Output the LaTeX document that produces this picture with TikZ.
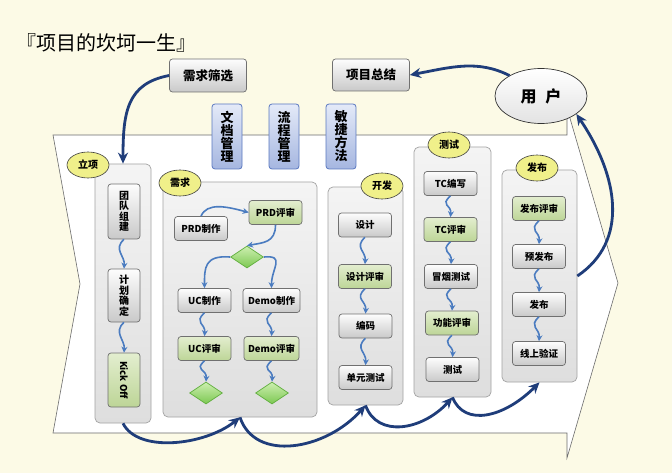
\documentclass[tikz,border=0pt]{standalone}
\usepackage{fontspec}
\setmainfont{Noto Sans CJK SC}
\usetikzlibrary{shapes.geometric,arrows.meta}

\definecolor{bgcream}{HTML}{FCFAE6}
\definecolor{edgegray}{HTML}{6B6B6B}
\definecolor{panelline}{HTML}{A3A3A3}
\definecolor{panelTop}{HTML}{F4F4F4}
\definecolor{panelBot}{HTML}{DEDEDE}
\definecolor{boxline}{HTML}{707070}
\definecolor{grayTop}{HTML}{FDFDFD}
\definecolor{grayBot}{HTML}{C9C9C9}
\definecolor{greenTop}{HTML}{E3EECF}
\definecolor{greenBot}{HTML}{BDD597}
\definecolor{choiceTop}{HTML}{CDEFB0}
\definecolor{choiceBot}{HTML}{7CC852}
\definecolor{choiceLine}{HTML}{5FAE3C}
\definecolor{tagFill}{HTML}{F0F08A}
\definecolor{blueTop}{HTML}{E4EAF8}
\definecolor{blueBot}{HTML}{A5B6E0}
\definecolor{blueLine}{HTML}{5A78C0}
\definecolor{flowBlue}{HTML}{4B7CC0}
\definecolor{navy}{HTML}{1F3D7A}

\begin{document}
\begin{tikzpicture}[x=1pt,y=-1pt,
  panel/.style={draw=panelline,line width=0.7pt,rounded corners=5pt,
    top color=panelTop,bottom color=panelBot},
  tag/.style={ellipse,draw=black!75,line width=0.6pt,fill=tagFill,
    minimum width=42pt,minimum height=26pt,inner sep=0pt,
    font=\bfseries\fontsize{10}{10}\selectfont},
  stagebox/.style={draw=boxline,line width=0.7pt,rounded corners=3pt,
    minimum width=53pt,minimum height=24pt,inner sep=1pt,
    font=\bfseries\fontsize{9.5}{10}\selectfont},
  graybox/.style={stagebox,top color=grayTop,bottom color=grayBot},
  greenbox/.style={stagebox,top color=greenTop,bottom color=greenBot},
  vbox/.style={minimum width=32pt,align=center,
    font=\bfseries\fontsize{10}{10.5}\selectfont},
  choice/.style={diamond,draw=choiceLine,line width=0.7pt,
    top color=choiceTop,bottom color=choiceBot,
    minimum width=33pt,minimum height=22pt,inner sep=0pt},
  bluebox/.style={draw=blueLine,line width=0.8pt,rounded corners=3pt,
    top color=blueTop,bottom color=blueBot,minimum width=30pt,
    minimum height=65pt,inner sep=0pt,align=center,
    font=\bfseries\fontsize{13}{13}\selectfont},
  flow/.style={draw=flowBlue,line width=1.6pt,-{Stealth[length=6pt,width=6pt]}},
  bigflow/.style={draw=navy,line width=2.8pt,-{Stealth[length=11pt,width=10pt]}}]

  \useasboundingbox (0,0) rectangle (672,473);
  \fill[bgcream] (0,0) rectangle (672,473);

  % title
  \node[anchor=west,font=\fontsize{20}{20}\selectfont] (title) at (13,43) {『项目的坎坷一生』};

  % big chevron arrow behind the stages
  \filldraw[fill=white,draw=edgegray,line width=0.6pt]
    (53,135) -- (567,135) -- (567,108) -- (618,283) -- (567,458)
    -- (567,433) -- (53,433) -- (80,284) -- cycle;

  % stage panels
  \node[panel,minimum width=56pt,minimum height=259pt] (lixiangP) at (123,293.5) {};
  \node[panel,minimum width=154pt,minimum height=235pt] (xuqiuP) at (240,299.5) {};
  \node[panel,minimum width=75pt,minimum height=218pt] (kaifaP) at (365.5,296) {};
  \node[panel,minimum width=77pt,minimum height=250pt] (ceshiP) at (452.5,272) {};
  \node[panel,minimum width=75pt,minimum height=212pt] (fabuP) at (539.5,276) {};

  % stage tags
  \node[tag] (lixiangT) at (88,165) {立项};
  \node[tag] (xuqiuT) at (180,183) {需求};
  \node[tag] (kaifaT) at (382,186) {开发};
  \node[tag] (ceshiT) at (449,145) {测试};
  \node[tag] (fabuT) at (537,168) {发布};

  % 立项
  \node[graybox,vbox,minimum height=55pt] (tuandui) at (124,211.5) {团\\队\\组\\建};
  \node[graybox,vbox,minimum height=53pt] (jihua) at (124,295.5) {计\\划\\确\\定};
  \node[greenbox,minimum width=54pt,minimum height=32pt,rotate=-90] (kickoff) at (124,380) {Kick Off};

  % 需求
  \node[graybox] (prdzz) at (201,228.5) {PRD制作};
  \node[greenbox] (prdps) at (275.5,212.5) {PRD评审};
  \node[choice] (dia1) at (247,257) {};
  \node[graybox] (uczz) at (204.5,300.5) {UC制作};
  \node[graybox,minimum width=57pt] (demozz) at (271.5,300.5) {Demo制作};
  \node[greenbox] (ucps) at (204.5,348.5) {UC评审};
  \node[greenbox,minimum width=55pt] (demops) at (271.5,348.5) {Demo评审};
  \node[choice] (dia2) at (206,393) {};
  \node[choice] (dia3) at (272,393) {};

  % 开发
  \node[graybox] (sheji) at (365,225) {设计};
  \node[greenbox] (sjps) at (365,276.5) {设计评审};
  \node[graybox] (bianma) at (365.5,326) {编码};
  \node[graybox] (dycs) at (365.5,377.5) {单元测试};

  % 测试
  \node[graybox] (tcbx) at (450.5,183.5) {TC编写};
  \node[greenbox] (tcps) at (450.5,229.5) {TC评审};
  \node[graybox] (mycs) at (451,276.5) {冒烟测试};
  \node[greenbox] (gnps) at (452,323) {功能评审};
  \node[graybox] (cs) at (452.5,369.5) {测试};

  % 发布
  \node[greenbox] (fbps) at (539,208.5) {发布评审};
  \node[graybox] (yfb) at (539,256.5) {预发布};
  \node[graybox] (fb) at (539,304.5) {发布};
  \node[graybox] (xsyz) at (539,353.5) {线上验证};

  % around the project
  \node[graybox,minimum width=77pt,minimum height=33pt,
    font=\bfseries\fontsize{12.5}{13}\selectfont] (xqsx) at (208,75.5) {需求筛选};
  \node[graybox,minimum width=77pt,minimum height=32pt,
    font=\bfseries\fontsize{12.5}{13}\selectfont] (xmzj) at (371,75) {项目总结};
  \node[ellipse,draw=black!80,line width=0.7pt,top color=white,bottom color=gray!22,
    minimum width=92pt,minimum height=55pt,
    font=\bfseries\fontsize{16}{16}\selectfont] (user) at (541,96) {用\hspace{.55em}户};
  \node[bluebox] (wdgl) at (227,136.5) {文\\档\\管\\理};
  \node[bluebox] (lcgl) at (284,136.5) {流\\程\\管\\理};
  \node[bluebox] (mjff) at (341,136.5) {敏\\捷\\方\\法};

  % small flows inside the stages
  \foreach \src/\dst in {tuandui/jihua,uczz/ucps,demozz/demops,ucps/dia2,demops/dia3,
      sheji/sjps,sjps/bianma,bianma/dycs,tcbx/tcps,tcps/mycs,mycs/gnps,gnps/cs,
      fbps/yfb,yfb/fb,fb/xsyz}
    \draw[flow] (\src.south) .. controls +(-11,10) and +(1,-13) .. (\dst.north);
  \draw[flow] (jihua.south) .. controls +(-11,10) and +(1,-13) .. (kickoff.west);
  \draw[flow] (prdzz.north) .. controls +(6,-14) and +(-22,-6) .. (prdps.west);
  \draw[flow] (prdps.south) .. controls +(0,18) and +(16,-3) .. (dia1.north);
  \draw[flow] (dia1.west) .. controls +(-26,-2) and +(0,-20) .. (uczz.north);
  \draw[flow] (dia1.east) .. controls +(22,-2) and +(0,-20) .. (demozz.north);

  % big flows
  \draw[bigflow] (xqsx.west) .. controls +(-42,8) and +(0,-52) .. (lixiangP.north);
  \draw[bigflow] (user.147) .. controls +(-32,-16) and +(42,-8) .. (xmzj.east);
  \draw[bigflow] (fabuP.east) .. controls +(52,-35) and +(42,62) .. (user.-27);
  \draw[bigflow] (lixiangP.south) .. controls +(15,30) and +(-35,28) .. (xuqiuP.south);
  \draw[bigflow] (xuqiuP.south) .. controls +(15,45) and +(-40,45) .. (kaifaP.south);
  \draw[bigflow] (kaifaP.south) .. controls +(12,33) and +(-30,33) .. (ceshiP.south);
  \draw[bigflow] (ceshiP.south) .. controls +(12,30) and +(-35,35) .. (fabuP.south);
\end{tikzpicture}
\end{document}
